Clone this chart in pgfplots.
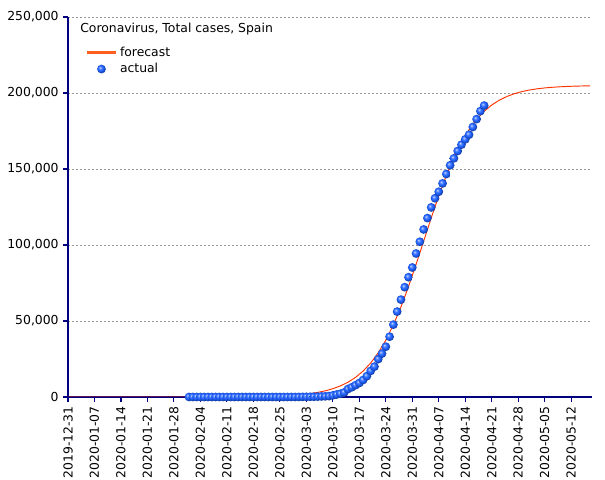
\documentclass[border=0pt]{standalone}
\usepackage{fontspec}
\setmainfont{DejaVu Sans}
\usepackage{pgfplots}
\pgfplotsset{compat=1.18}
\definecolor{axisnavy}{HTML}{000080}
\definecolor{fcred}{HTML}{FF3300}
\definecolor{legorange}{HTML}{FF6020}
\definecolor{ballblue}{HTML}{1E60FF}
% brighter ball than the tikz default
\pgfdeclareradialshading{blueball}{\pgfqpoint{-9bp}{9bp}}{%
  color(0bp)=(ballblue!20!white); color(8bp)=(ballblue!80!white);
  color(16bp)=(ballblue); color(25bp)=(ballblue!65!black);
  color(50bp)=(ballblue!40!black)}
\pgfdeclareplotmark{bball}{%
  \pgfpathcircle{\pgfpointorigin}{\pgfplotmarksize}%
  \pgfshadepath{blueball}{0}\pgfusepath{}}
\pgfplotsset{
  ballleg/.style={legend image code/.code={\draw[##1] plot coordinates {(11pt,0pt)};}},
  lineleg/.style={legend image code/.code={\draw[legorange, line width=1.8pt] (0pt,0pt) -- (22pt,0pt);}},
}

\begin{document}
\begin{tikzpicture}
\begin{axis}[
  scale only axis, width=393pt, height=285pt,
  xmin=0, xmax=138.5, ymin=0, ymax=250000,
  axis x line*=bottom, axis y line*=left,
  axis line style={axisnavy, line width=0.8pt},
  tick align=outside, major tick length=3.5pt,
  tick style={axisnavy, line width=0.8pt},
  xtick={0,7,...,133},
  xticklabels={2019-12-31,2020-01-07,2020-01-14,2020-01-21,2020-01-28,2020-02-04,2020-02-11,2020-02-18,2020-02-25,2020-03-03,2020-03-10,2020-03-17,2020-03-24,2020-03-31,2020-04-07,2020-04-14,2020-04-21,2020-04-28,2020-05-05,2020-05-12},
  x tick label style={rotate=90, anchor=east},
  ytick={0,50000,100000,150000,200000,250000},
  scaled y ticks=false,
  yticklabel={\pgfmathprintnumber[fixed,precision=0,1000 sep={,},assume math mode=true]{\tick}},
  ymajorgrids,
  grid style={gray!80, dash pattern=on 1.5pt off 1.5pt, line width=0.5pt},
  tick label style={font=\fontsize{9.3}{11}\selectfont},
  legend style={at={(rel axis cs:0,1)}, anchor=north west, xshift=10pt, yshift=-18pt,
    draw=none, fill=none, font=\fontsize{9.3}{11}\selectfont, row sep=0pt,
    cells={anchor=west}},
]
\addplot[fcred, line width=0.7pt, lineleg]
  coordinates {
  (0,0) (30,8) (40,62) (50,279) (55,589) (58,922) (60,1242) (62,1673) (64,2252)
  (66,3029) (68,4067) (70,5452) (72,7293) (74,9720) (76,12909) (78,17055)
  (80,22365) (82,29078) (84,37395) (86,47454) (88,59249) (90,72643) (92,87234)
  (94,102500) (96,117766) (98,132357) (100,145741) (102,157546) (104,167605)
  (106,175922) (108,182635) (110,187950) (112,192091) (114,195277) (116,197706)
  (118,199552) (120,200941) (122,201970) (124,202750) (126,203327) (128,203757)
  (130,204078) (132,204316) (134,204493) (136,204624) (138,204721)
  };
\addlegendentry{forecast}
\addplot[only marks, mark=bball, mark size=3.3pt, ballleg]
  coordinates {
  (32,1) (33,1) (34,1) (35,1) (36,1) (37,1) (38,1) (39,1) (40,1) (41,2)
  (42,2) (43,2) (44,2) (45,2) (46,2) (47,2) (48,2) (49,2) (50,2) (51,2)
  (52,2) (53,2) (54,2) (55,2) (56,2) (57,6) (58,13) (59,25) (60,32) (61,45)
  (62,84) (63,114) (64,151) (65,198) (66,261) (67,374) (68,430) (69,589)
  (70,1073) (71,1639) (72,2140) (73,3004) (74,5232) (75,6391) (76,7753)
  (77,9191) (78,11178) (79,13716) (80,17147) (81,19980) (82,24926) (83,28572)
  (84,33089) (85,39673) (86,47610) (87,56188) (88,64059) (89,72248) (90,78797)
  (91,85195) (92,94417) (93,102136) (94,110238) (95,117710) (96,124736)
  (97,130759) (98,135032) (99,140510) (100,146690) (101,152446) (102,157022)
  (103,161852) (104,166019) (105,169496) (106,172541) (107,177633)
  (108,182816) (109,188068) (110,191726)
  };
\addlegendentry{actual}
\node[anchor=north west, inner sep=0pt, font=\fontsize{9.3}{11}\selectfont]
  at ([shift={(9pt,-4pt)}]rel axis cs:0,1) {Coronavirus, Total cases, Spain};
\end{axis}
\pgfresetboundingbox
\path[use as bounding box] ([shift={(-51pt,-62.25pt)}]current axis.south west)
  rectangle ([shift={(9.75pt,12.75pt)}]current axis.north east);
\end{tikzpicture}
\end{document}
